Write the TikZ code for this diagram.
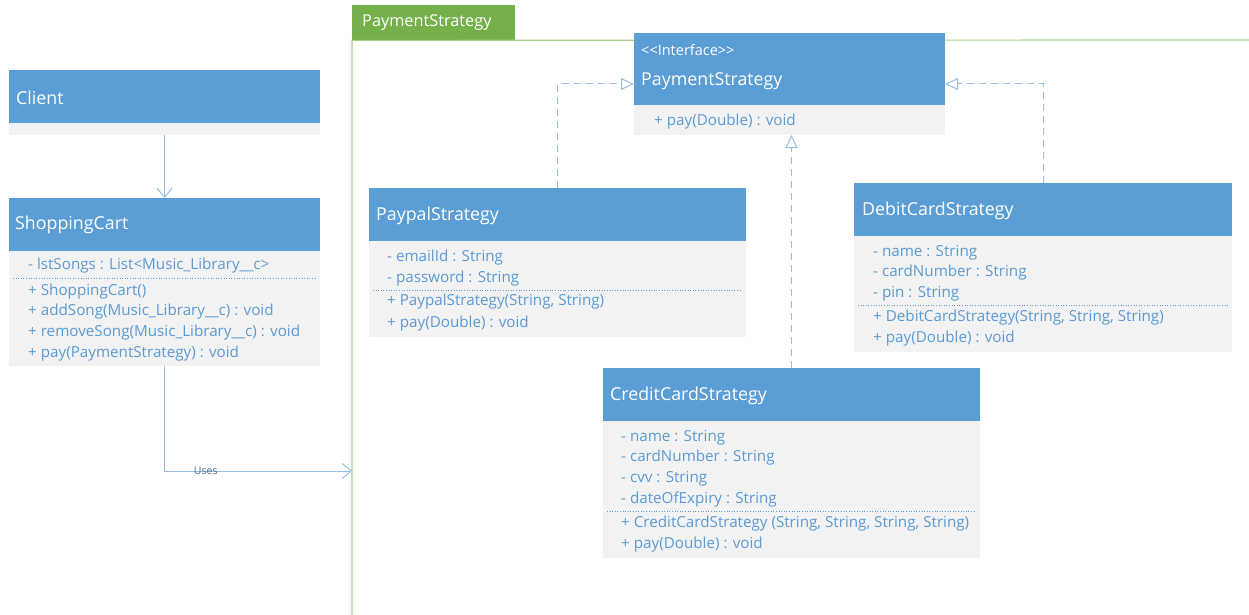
\documentclass[tikz,border=0pt]{standalone}
\usepackage{fontspec}
\setmainfont{Open Sans}
\usetikzlibrary{arrows.meta}
\definecolor{hdr}{RGB}{91,157,213}
\definecolor{bodyg}{RGB}{242,242,242}
\definecolor{txt}{RGB}{91,155,213}
\definecolor{conn}{RGB}{150,190,228}
\definecolor{pkg}{RGB}{118,176,74}
\definecolor{pkgline}{RGB}{169,209,142}
\begin{document}
\begin{tikzpicture}[x=1pt,y=-1pt,
  hdrbox/.style={fill=hdr, anchor=north west, inner sep=0pt, outer sep=0pt},
  bodybox/.style={fill=bodyg, anchor=north west, inner sep=0pt, outer sep=0pt},
  htext/.style={anchor=west, text=white, inner sep=0pt, font=\fontsize{17.8}{21}\selectfont},
  btext/.style={anchor=west, text=txt, inner sep=0pt, font=\fontsize{15.2}{18}\selectfont},
  sep/.style={draw=txt, dotted, line width=0.6pt},
  assoc/.style={draw=conn, line width=1pt, -{Straight Barb[length=9pt,width=15pt]}},
  real/.style={draw=conn, line width=1pt, dash pattern=on 7pt off 5pt, -{Triangle[open,length=13pt,width=12pt,fill=white]}},
  pkgframe/.style={draw=pkgline, line width=1.2pt}]
\useasboundingbox (0,0) rectangle (1249,615);

% package frame
\node[fill=pkg, anchor=north west, inner sep=0pt, minimum width=163pt, minimum height=35pt] (pkgTab) at (352,5) {};
\node[anchor=west, text=white, inner sep=0pt, font=\fontsize{16.3}{19}\selectfont] (pkgT) at (362,23) {PaymentStrategy};
\coordinate (frameBL) at (352,615);
\coordinate (frameTR) at (1249,40);
\draw[pkgframe] (frameBL) -- (pkgTab.south west) -- (frameTR);

% Client
\node[hdrbox, minimum width=311pt, minimum height=53pt] (clientH) at (9,70) {};
\node[bodybox, minimum width=311pt, minimum height=12pt] (clientB) at (9,123) {};
\node[htext] (clientT) at (16,98) {Client};

% ShoppingCart
\node[hdrbox, minimum width=311pt, minimum height=53pt] (scH) at (9,198) {};
\node[bodybox, minimum width=311pt, minimum height=115pt] (scB) at (9,251) {};
\node[htext] (scT) at (15,225) {ShoppingCart};
\node[btext] (sc1) at (28,266) {- lstSongs : List{<}Music\_Library\_\_c{>}};
\draw[sep] (13,278) -- (316,278);
\node[btext] (sc2) at (28,292) {+ ShoppingCart()};
\node[btext] (sc3) at (28,312) {+ addSong(Music\_Library\_\_c) : void};
\node[btext] (sc4) at (28,333) {+ removeSong(Music\_Library\_\_c) : void};
\node[btext] (sc5) at (28,354) {+ pay(PaymentStrategy) : void};

% Interface
\node[hdrbox, minimum width=311pt, minimum height=72pt] (ifH) at (634,33) {};
\node[bodybox, minimum width=311pt, minimum height=30pt] (ifB) at (634,105) {};
\node[anchor=west, text=white, inner sep=0pt, font=\fontsize{14.5}{17}\selectfont] (ifS) at (641,50) {{<}{<}Interface{>}{>}};
\node[htext] (ifT) at (641,81) {PaymentStrategy};
\node[btext] (if1) at (654,122) {+ pay(Double) : void};

% Paypal
\node[hdrbox, minimum width=377pt, minimum height=53pt] (ppH) at (369,188) {};
\node[bodybox, minimum width=377pt, minimum height=96pt] (ppB) at (369,241) {};
\node[htext] (ppT) at (376,216) {PaypalStrategy};
\node[btext] (pp1) at (387,258) {- emailId : String};
\node[btext] (pp2) at (387,279) {- password : String};
\draw[sep] (373,290) -- (742,290);
\node[btext] (pp3) at (387,302) {+ PaypalStrategy(String, String)};
\node[btext] (pp4) at (387,324) {+ pay(Double) : void};

% Debit
\node[hdrbox, minimum width=378pt, minimum height=53pt] (dbH) at (854,183) {};
\node[bodybox, minimum width=378pt, minimum height=116pt] (dbB) at (854,236) {};
\node[htext] (dbT) at (862,211) {DebitCardStrategy};
\node[btext] (db1) at (873,253) {- name : String};
\node[btext] (db2) at (873,273) {- cardNumber : String};
\node[btext] (db3) at (873,294) {- pin : String};
\draw[sep] (858,305) -- (1228,305);
\node[btext] (db4) at (873,318) {+ DebitCardStrategy(String, String, String)};
\node[btext] (db5) at (873,339) {+ pay(Double) : void};

% Credit
\node[hdrbox, minimum width=377pt, minimum height=53pt] (ccH) at (603,368) {};
\node[bodybox, minimum width=377pt, minimum height=137pt] (ccB) at (603,421) {};
\node[htext] (ccT) at (610,396) {CreditCardStrategy};
\node[btext] (cc1) at (621,438) {- name : String};
\node[btext] (cc2) at (621,458) {- cardNumber : String};
\node[btext] (cc3) at (621,479) {- cvv : String};
\node[btext] (cc4) at (621,500) {- dateOfExpiry : String};
\draw[sep] (607,511) -- (976,511);
\node[btext] (cc5) at (621,524) {+ CreditCardStrategy (String, String, String, String)};
\node[btext] (cc6) at (621,545) {+ pay(Double) : void};

% connectors
\draw[assoc] (clientB.south) -- (scH.north);
\coordinate (usesEnd) at (352,471);
\draw[assoc] (scB.south) |- node[pos=0.61, text=txt!70!black, inner sep=0pt, font=\fontsize{10.5}{12}\selectfont] (usesL) {Uses} (usesEnd);
\draw[real] (ppH.north) |- ([yshift=-15pt]ifH.west);
\draw[real] (dbH.north) |- ([yshift=-15pt]ifH.east);
\draw[real] (ccH.north) -- (ccH.north |- ifB.south);
\end{tikzpicture}
\end{document}
